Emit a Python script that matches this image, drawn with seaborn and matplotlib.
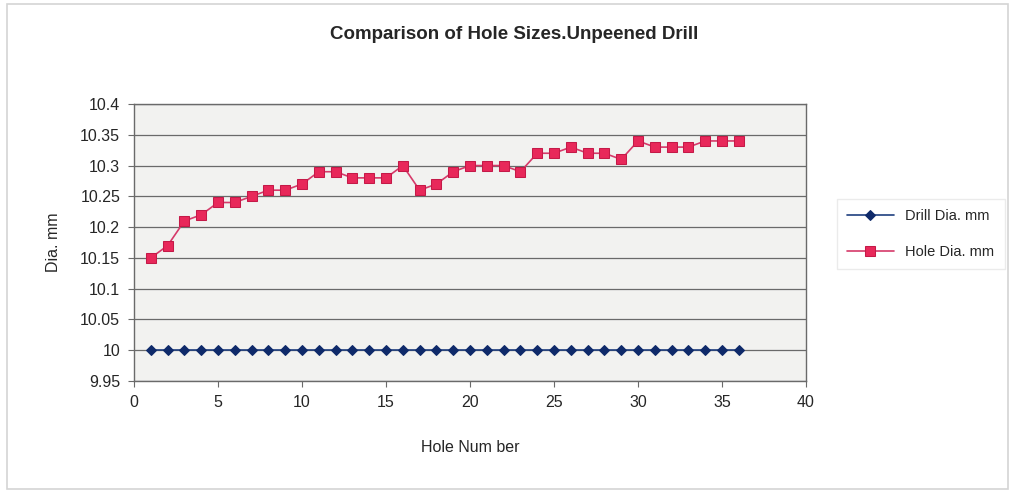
import numpy as np
import pandas as pd
import matplotlib
matplotlib.use("Agg")
import matplotlib.pyplot as plt
import seaborn as sns
from matplotlib.patches import Rectangle

# Measurements per drilled hole
hole_number = list(range(1, 37))
drill_dia = [10.00] * 36
hole_dia = [10.15, 10.17, 10.21, 10.22, 10.24, 10.24, 10.25, 10.26, 10.26, 10.27,
            10.29, 10.29, 10.28, 10.28, 10.28, 10.30, 10.26, 10.27, 10.29, 10.30,
            10.30, 10.30, 10.29, 10.32, 10.32, 10.33, 10.32, 10.32, 10.31, 10.34,
            10.33, 10.33, 10.33, 10.34, 10.34, 10.34]
y_ticks = [9.95, 10.0, 10.05, 10.1, 10.15, 10.2, 10.25, 10.3, 10.35, 10.4]
y_tick_labels = ["9.95", "10", "10.05", "10.1", "10.15", "10.2", "10.25", "10.3", "10.35", "10.4"]
x_ticks = [0, 5, 10, 15, 20, 25, 30, 35, 40]

df = pd.DataFrame({"Hole": hole_number,
                   "Drill Dia. mm": drill_dia,
                   "Hole Dia. mm": hole_dia})

sns.set_style("white")
plt.rcParams["font.family"] = ["Liberation Sans", "DejaVu Sans"]

fig = plt.figure(figsize=(10.13, 4.92), dpi=100)
fig.patch.set_facecolor("white")
# light frame around the whole chart
fig.add_artist(Rectangle((0.007, 0.006), 0.988, 0.985, transform=fig.transFigure,
                         fill=False, edgecolor="#d4d4d4", linewidth=1.2))

ax = fig.add_axes([0.1323, 0.2256, 0.6634, 0.563])
ax.set_facecolor("#f2f2f0")

sns.lineplot(data=df, x="Hole", y="Drill Dia. mm", ax=ax, color="#1f3f7f",
             marker="D", markersize=5.5, markerfacecolor="#0f2a6a",
             markeredgecolor="#0f2a6a", linewidth=1.2, label="Drill Dia. mm")
sns.lineplot(data=df, x="Hole", y="Hole Dia. mm", ax=ax, color="#d63a6a",
             marker="s", markersize=7, markerfacecolor="#e8285a",
             markeredgecolor="#c41a48", linewidth=1.2, label="Hole Dia. mm")

ax.set_xlim(0, 40)
ax.set_ylim(9.95, 10.4)
ax.set_xticks(x_ticks)
ax.set_yticks(y_ticks)
ax.set_yticklabels(y_tick_labels)
ax.grid(axis="y", color="#6a6a6a", linewidth=0.9)
ax.set_axisbelow(True)
for s in ax.spines.values():
    s.set_color("#6a6a6a")
    s.set_linewidth(1.0)
ax.tick_params(axis="both", labelsize=11.5, length=4, color="#6a6a6a",
               direction="out", left=True, bottom=True, pad=6)

ax.set_xlabel("Hole Num ber", fontsize=11.5, labelpad=22)
ax.set_ylabel("Dia. mm", fontsize=11.5, labelpad=14)
fig.suptitle("Comparison of Hole Sizes.Unpeened Drill", fontsize=13.5,
             fontweight="bold", x=0.508, y=0.947)

leg = ax.legend(loc="center left", bbox_to_anchor=(1.035, 0.53), frameon=True,
                fontsize=10.5, fancybox=False, edgecolor="#e6e6e6",
                handlelength=3.2, borderpad=0.7, labelspacing=1.5)
leg.get_frame().set_linewidth(1.0)

fig.savefig("out.png", dpi=100, facecolor="white")
